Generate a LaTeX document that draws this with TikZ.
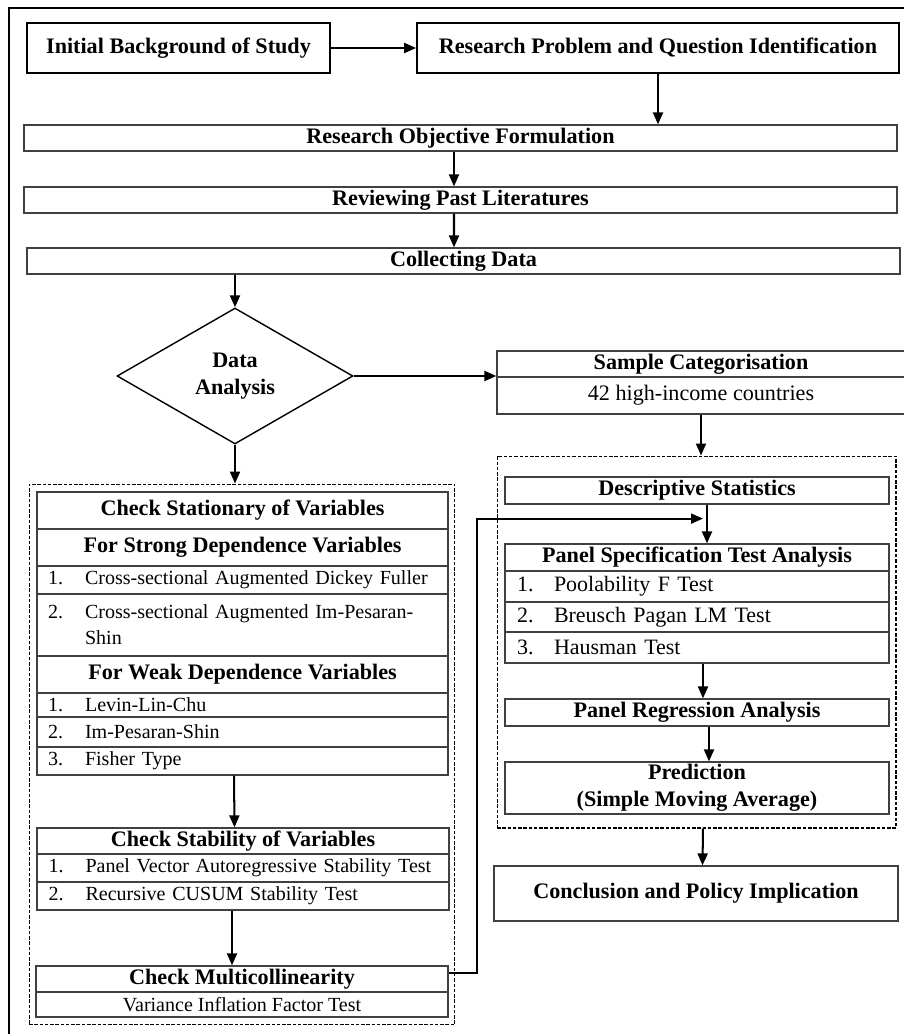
\documentclass[tikz,border=0pt]{standalone}
\usepackage{fontspec}
\setmainfont{Liberation Serif}
\usetikzlibrary{arrows.meta, shapes.geometric}
\newcommand{\bigfs}{\fontsize{12.6}{15.5}\selectfont}
\newcommand{\midfs}{\fontsize{12.5}{14.7}\selectfont}
\newcommand{\smallfs}{\fontsize{11.4}{14.7}\selectfont}
\newcommand{\itm}[2]{\makebox[0.74cm][l]{#1}#2}

\begin{document}
\begin{tikzpicture}[
    x=0.02cm, y=-0.02cm,
    topbox/.style={rectangle, draw=black, line width=1.1pt, minimum height=1cm, inner sep=0pt, font=\bigfs\bfseries},
    bar/.style={rectangle, draw=black!75, line width=0.7pt, minimum width=17.46cm, minimum height=0.52cm, inner sep=0pt, font=\bigfs\bfseries},
    head/.style={rectangle, draw=black!75, line width=0.7pt, inner sep=0pt, align=center, font=\bigfs\bfseries},
    plain/.style={rectangle, draw=black!75, line width=0.7pt, inner sep=0pt, font=\bigfs},
    litem/.style={rectangle, draw=black!75, line width=0.7pt, minimum width=8.22cm, inner xsep=0.22cm, inner ysep=0pt, text width=7.78cm, align=left, font=\smallfs},
    ritem/.style={rectangle, draw=black!75, line width=0.7pt, minimum width=7.68cm, inner xsep=0.24cm, inner ysep=0pt, text width=7.2cm, align=left, font=\midfs},
    decision/.style={diamond, draw=black, line width=0.8pt, minimum width=4.72cm, minimum height=2.72cm, aspect=1.74, inner sep=0pt, align=center, font=\bigfs\bfseries},
    group/.style={rectangle, draw=black, line width=0.6pt, dash pattern=on 2pt off 1pt},
    arrow/.style={-{Triangle[length=0.24cm, width=0.2cm]}, line width=1.15pt}
]
    \useasboundingbox (0,0) rectangle (903,1034);
    \draw[line width=0.8pt] (9,1045) -- (9,8) -- (915,8);

    % Top of the flow
    \node[topbox, minimum width=6.06cm] (bg) at (178.5, 48) {Initial Background of Study};
    \node[topbox, minimum width=9.64cm] (rq) at (658, 48) {Research Problem and Question Identification};
    \node[bar] (obj) at (460.5, 138) {Research Objective Formulation};
    \node[bar] (rev) at (460.5, 200) {Reviewing Past Literatures};
    \node[bar] (col) at (463.5, 261) {Collecting Data};

    \draw[arrow] (bg) -- (rq);
    \draw[arrow] (rq.south) -- (rq.south |- obj.north);
    \draw[arrow] ([xshift=-0.13cm]obj.south) -- ([xshift=-0.13cm]rev.north);
    \draw[arrow] ([xshift=-0.13cm]rev.south) -- ([xshift=-0.19cm]col.north);

    % Decision and sample
    \node[decision] (da) at (235, 376) {Data\\Analysis};
    \node[head, minimum width=8.16cm, minimum height=0.52cm] (smp1) at (701, 364) {Sample Categorisation};
    \node[plain, minimum width=8.16cm, minimum height=0.74cm] (smp2) at (701, 395.5) {42 high-income countries};

    \draw[arrow] (col.south -| da.north) -- (da.north);
    \draw[arrow] (da.east) -- (da.east -| smp1.west);

    % Left group: stationarity, stability, multicollinearity
    \node[group, minimum width=8.52cm, minimum height=10.82cm] (lgrp) at (242, 754.5) {};
    \node[head, minimum width=8.22cm, minimum height=0.74cm] (st1) at (242.5, 510.5) {Check Stationary of Variables};
    \node[head, minimum width=8.22cm, minimum height=0.74cm] (st2) at (242.5, 547.5) {For Strong Dependence Variables};
    \node[litem, minimum height=0.56cm] (st3) at (242.5, 580) {\itm{1.}{Cross-sectional Augmented Dickey Fuller}};
    \node[litem, minimum height=1.24cm] (st4) at (242.5, 625) {\itm{2.}{Cross-sectional Augmented Im-Pesaran-}\\\hspace*{0.74cm}Shin};
    \node[head, minimum width=8.22cm, minimum height=0.74cm] (st5) at (242.5, 674.5) {For Weak Dependence Variables};
    \node[litem, minimum height=0.48cm] (st6) at (242.5, 705) {\itm{1.}{Levin-Lin-Chu}};
    \node[litem, minimum height=0.6cm] (st7) at (242.5, 732) {\itm{2.}{Im-Pesaran-Shin}};
    \node[litem, minimum height=0.56cm] (st8) at (242.5, 761) {\itm{3.}{Fisher Type}};

    \node[head, minimum width=8.24cm, minimum height=0.52cm] (sb1) at (243, 841) {Check Stability of Variables};
    \node[litem, minimum width=8.24cm, minimum height=0.56cm] (sb2) at (243, 868) {\itm{1.}{Panel Vector Autoregressive Stability Test}};
    \node[litem, minimum width=8.24cm, minimum height=0.56cm] (sb3) at (243, 896) {\itm{2.}{Recursive CUSUM Stability Test}};

    \node[head, minimum width=8.24cm, minimum height=0.52cm] (mc1) at (242, 979) {Check Multicollinearity};
    \node[plain, minimum width=8.24cm, minimum height=0.5cm, font=\smallfs] (mc2) at (242, 1004.5) {Variance Inflation Factor Test};

    \draw[arrow] (da.south) -- (da.south |- lgrp.north);
    \draw[arrow] ([xshift=-0.17cm]st8.south) -- ([xshift=-0.17cm]sb1.north);
    \draw[arrow] ([xshift=-0.22cm]sb3.south) -- ([xshift=-0.2cm]mc1.north);

    % Right group: panel analysis
    \node[group, minimum width=7.98cm, minimum height=7.44cm] (rgrp) at (696.5, 642) {};
    \node[head, minimum width=7.68cm, minimum height=0.54cm] (ds) at (697, 490.5) {Descriptive Statistics};
    \node[head, minimum width=7.68cm, minimum height=0.54cm] (ps1) at (697, 557.5) {Panel Specification Test Analysis};
    \node[ritem, minimum height=0.62cm] (ps2) at (697, 586.5) {\itm{1.}{Poolability F Test}};
    \node[ritem, minimum height=0.6cm] (ps3) at (697, 617) {\itm{2.}{Breusch Pagan LM Test}};
    \node[ritem, minimum height=0.62cm] (ps4) at (697, 647.5) {\itm{3.}{Hausman Test}};
    \node[head, minimum width=7.68cm, minimum height=0.54cm] (pr) at (697, 712.5) {Panel Regression Analysis};
    \node[head, minimum width=7.68cm, minimum height=1.04cm] (pd) at (697, 788) {Prediction\\(Simple Moving Average)};
    \node[head, minimum width=8.08cm, minimum height=1.1cm] (cn) at (696, 893.5) {Conclusion and Policy Implication};

    \coordinate (join) at ([xshift=0.2cm, yshift=-0.28cm]ds.south);

    \draw[arrow] (smp2.south) -- (smp2.south |- rgrp.north);
    \draw[arrow] ([xshift=0.2cm]ds.south) -- ([xshift=0.2cm]ps1.north);
    \draw[arrow] ([xshift=0.12cm]ps4.south) -- ([xshift=0.12cm]pr.north);
    \draw[arrow] ([xshift=0.24cm]pr.south) -- ([xshift=0.24cm]pd.north);
    \draw[arrow] ([xshift=0.13cm]rgrp.south) -- ([xshift=0.13cm]cn.north);
    \draw[arrow] ([yshift=0.12cm]mc1.east) -- ++(28,0) |- ([xshift=-0.08cm]join);
\end{tikzpicture}
\end{document}
